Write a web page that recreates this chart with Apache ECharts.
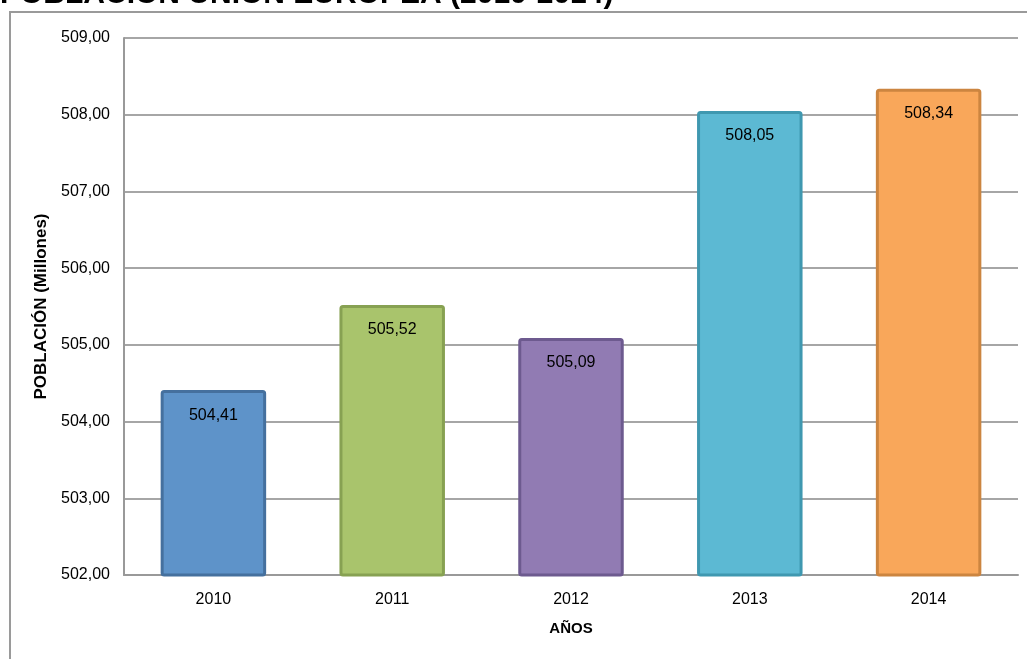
<!DOCTYPE html>
<html><head><meta charset="utf-8">
<script src="https://cdn.jsdelivr.net/npm/echarts@6/dist/echarts.min.js"></script>
<style>html,body{margin:0;padding:0;background:#fff}#c{width:1027px;height:659px}</style>
</head><body><div id="c"></div>
<script>
const categories = ['2010','2011','2012','2013','2014'];
const values = [504.41, 505.52, 505.09, 508.05, 508.34];
const fillColors = ['#5E93C9','#A9C46C','#917BB3','#5CB9D3','#F9A75A'];
const borderColors = ['#45709E','#87A152','#6D5A8F','#3F98B0','#CC8540'];
const yMin = 502, yMax = 509, yStep = 1;

const fmt = v => v.toFixed(2).replace('.', ',');
const chart = echarts.init(document.getElementById('c'));
chart.setOption({
  animation: false,
  textStyle: { fontFamily: 'Liberation Sans, Arial, sans-serif' },
  graphic: [
    { type: 'rect', shape: { x: 10, y: 12, width: 1040, height: 700 },
      style: { fill: 'none', stroke: '#9a9a9a', lineWidth: 2 }, z: -1 },
    { type: 'text', left: 0, top: -20,
      style: { text: 'POBLACIÓN UNIÓN EUROPEA (2010-2014)', font: 'bold 30px "Liberation Sans", Arial, sans-serif', fill: '#000' } }
  ],
  grid: { left: 124, right: 9, top: 38, bottom: 84 },
  xAxis: {
    type: 'category', data: categories,
    name: 'AÑOS', nameLocation: 'middle', nameGap: 46,
    nameTextStyle: { fontWeight: 'bold', fontSize: 15, color: '#000' },
    axisLine: { lineStyle: { color: '#999', width: 2 } },
    axisTick: { show: false },
    axisLabel: { color: '#000', fontSize: 16, margin: 17 }
  },
  yAxis: {
    type: 'value', min: yMin, max: yMax, interval: yStep,
    name: 'POBLACIÓN (Millones)', nameLocation: 'middle', nameGap: 70,
    nameTextStyle: { fontWeight: 'bold', fontSize: 17, color: '#000' },
    axisLine: { show: true, lineStyle: { color: '#999', width: 2 } },
    axisTick: { show: false },
    axisLabel: { color: '#000', fontSize: 16, margin: 14, formatter: v => fmt(v) },
    splitLine: { lineStyle: { color: '#a6a6a6', width: 2 } }
  },
  series: [{
    type: 'bar', barWidth: '59%',
    data: values.map((v, i) => ({ value: v,
      itemStyle: { color: fillColors[i], borderColor: borderColors[i], borderWidth: 3, borderRadius: 2 } })),
    label: { show: true, position: 'insideTop', distance: 17, color: '#000', fontSize: 16,
      formatter: p => fmt(p.value) }
  }]
});
</script></body></html>
